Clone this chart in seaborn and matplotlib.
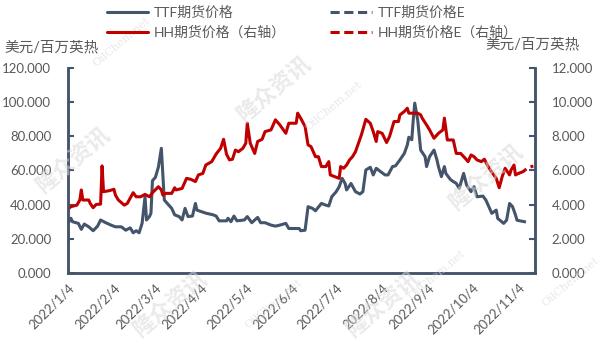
import pandas as pd
import numpy as np
import matplotlib.pyplot as plt
from matplotlib.lines import Line2D
import seaborn as sns

# 数据
ttf_dates = ["2022-01-04", "2022-01-06", "2022-01-07", "2022-01-11", "2022-01-13", "2022-01-15",
             "2022-01-18", "2022-01-21", "2022-01-24", "2022-01-26", "2022-01-29", "2022-02-02",
             "2022-02-05", "2022-02-09", "2022-02-12", "2022-02-15", "2022-02-17", "2022-02-19",
             "2022-02-21", "2022-02-23", "2022-02-25", "2022-02-26", "2022-02-28", "2022-03-01",
             "2022-03-02", "2022-03-04", "2022-03-06", "2022-03-08", "2022-03-10", "2022-03-12",
             "2022-03-15", "2022-03-17", "2022-03-20", "2022-03-22", "2022-03-24", "2022-03-26",
             "2022-03-29", "2022-03-31", "2022-04-01", "2022-04-07", "2022-04-12", "2022-04-14",
             "2022-04-16", "2022-04-21", "2022-04-22", "2022-04-24", "2022-04-26", "2022-04-28",
             "2022-05-03", "2022-05-05", "2022-05-08", "2022-05-12", "2022-05-14", "2022-05-17",
             "2022-05-21", "2022-05-24", "2022-05-27", "2022-05-31", "2022-06-02", "2022-06-09",
             "2022-06-10", "2022-06-13", "2022-06-15", "2022-06-18", "2022-06-20", "2022-06-24",
             "2022-06-27", "2022-06-29", "2022-07-01", "2022-07-04", "2022-07-06", "2022-07-08",
             "2022-07-10", "2022-07-11", "2022-07-14", "2022-07-17", "2022-07-20", "2022-07-22",
             "2022-07-24", "2022-07-27", "2022-07-29", "2022-07-31", "2022-08-03", "2022-08-06",
             "2022-08-08", "2022-08-11", "2022-08-13", "2022-08-16", "2022-08-19", "2022-08-21",
             "2022-08-22", "2022-08-24", "2022-08-25", "2022-08-26", "2022-08-28", "2022-08-30",
             "2022-09-02", "2022-09-03", "2022-09-05", "2022-09-08", "2022-09-10", "2022-09-11",
             "2022-09-13", "2022-09-15", "2022-09-16", "2022-09-19", "2022-09-21", "2022-09-23",
             "2022-09-25", "2022-09-28", "2022-09-30", "2022-10-03", "2022-10-05", "2022-10-07",
             "2022-10-11", "2022-10-13", "2022-10-15", "2022-10-17", "2022-10-20", "2022-10-21",
             "2022-10-23", "2022-10-25", "2022-10-27", "2022-10-29", "2022-10-31", "2022-11-02",
             "2022-11-03"]
ttf_values = [29.0, 32.0, 30.0, 29.0, 25.5, 28.6,
              27.0, 24.7, 27.4, 31.0, 29.6, 28.0,
              27.0, 27.0, 25.0, 26.4, 23.5, 24.7,
              23.5, 29.0, 44.6, 31.0, 33.0, 35.0,
              54.0, 56.0, 62.0, 73.0, 42.7, 40.7,
              37.8, 34.0, 33.0, 31.0, 37.8, 33.0,
              33.3, 40.7, 36.8, 35.0, 34.0, 33.3,
              30.5, 30.5, 32.0, 30.0, 33.3, 30.5,
              31.0, 33.0, 29.4, 32.5, 29.4, 29.4,
              28.0, 27.4, 28.0, 29.0, 26.0, 26.0,
              24.7, 25.0, 38.8, 37.8, 36.4, 40.7,
              39.7, 39.2, 44.6, 47.6, 50.5, 55.4,
              52.4, 48.6, 52.4, 47.6, 46.2, 47.6,
              60.3, 61.9, 57.4, 61.3, 59.3, 57.4,
              57.4, 62.3, 62.7, 66.2, 70.1, 75.0,
              79.5, 78.0, 89.7, 99.5, 89.7, 72.0,
              68.1, 62.3, 68.1, 72.0, 66.2, 62.3,
              56.4, 62.3, 58.3, 54.8, 53.5, 52.5,
              49.5, 58.3, 51.5, 47.6, 50.5, 44.6,
              45.0, 42.7, 38.8, 34.9, 36.8, 31.9,
              30.5, 29.0, 30.9, 40.7, 38.8, 33.9,
              30.9]
ttf_e_dates = ["2022-11-03", "2022-11-05", "2022-11-08", "2022-11-10"]
ttf_e_values = [30.9, 30.5, 30.0, 29.6]

hh_dates = ["2022-01-04", "2022-01-06", "2022-01-10", "2022-01-12", "2022-01-13", "2022-01-14",
            "2022-01-18", "2022-01-19", "2022-01-21", "2022-01-23", "2022-01-26", "2022-01-27",
            "2022-01-28", "2022-02-01", "2022-02-04", "2022-02-05", "2022-02-07", "2022-02-11",
            "2022-02-13", "2022-02-17", "2022-02-19", "2022-02-22", "2022-02-25", "2022-02-28",
            "2022-03-02", "2022-03-06", "2022-03-08", "2022-03-09", "2022-03-11", "2022-03-15",
            "2022-03-17", "2022-03-18", "2022-03-22", "2022-03-25", "2022-03-28", "2022-03-31",
            "2022-04-02", "2022-04-05", "2022-04-07", "2022-04-11", "2022-04-14", "2022-04-17",
            "2022-04-19", "2022-04-21", "2022-04-23", "2022-04-25", "2022-04-27", "2022-04-29",
            "2022-05-02", "2022-05-04", "2022-05-05", "2022-05-07", "2022-05-10", "2022-05-12",
            "2022-05-15", "2022-05-17", "2022-05-21", "2022-05-24", "2022-05-27", "2022-05-31",
            "2022-06-02", "2022-06-07", "2022-06-08", "2022-06-10", "2022-06-13", "2022-06-15",
            "2022-06-17", "2022-06-20", "2022-06-22", "2022-06-24", "2022-06-27", "2022-06-29",
            "2022-06-30", "2022-07-03", "2022-07-06", "2022-07-07", "2022-07-09", "2022-07-11",
            "2022-07-13", "2022-07-15", "2022-07-17", "2022-07-19", "2022-07-21", "2022-07-24",
            "2022-07-27", "2022-07-29", "2022-07-31", "2022-08-01", "2022-08-04", "2022-08-07",
            "2022-08-09", "2022-08-12", "2022-08-15", "2022-08-16", "2022-08-19", "2022-08-21",
            "2022-08-22", "2022-08-25", "2022-08-28", "2022-08-30", "2022-08-31", "2022-09-03",
            "2022-09-05", "2022-09-08", "2022-09-11", "2022-09-14", "2022-09-15", "2022-09-17",
            "2022-09-21", "2022-09-23", "2022-09-26", "2022-09-29", "2022-10-01", "2022-10-03",
            "2022-10-05", "2022-10-07", "2022-10-10", "2022-10-12", "2022-10-14", "2022-10-16",
            "2022-10-20", "2022-10-22", "2022-10-24", "2022-10-26", "2022-10-29", "2022-10-30",
            "2022-11-01", "2022-11-02", "2022-11-04"]
hh_values = [3.74, 3.88, 3.97, 4.27, 4.86, 4.27,
             4.27, 4.07, 3.82, 4.01, 4.03, 6.27,
             4.76, 4.82, 4.90, 4.56, 4.27, 3.97,
             4.07, 4.70, 4.46, 4.46, 4.60, 4.46,
             4.70, 5.05, 4.86, 4.56, 4.66, 4.66,
             4.99, 4.86, 4.95, 5.54, 5.48, 5.35,
             5.74, 5.83, 6.32, 6.52, 6.97, 7.30,
             7.83, 6.95, 6.62, 6.66, 7.20, 7.10,
             7.30, 7.60, 8.77, 7.60, 7.00, 7.70,
             7.83, 8.28, 8.38, 8.97, 8.67, 8.18,
             8.77, 8.77, 9.36, 9.07, 8.58, 7.50,
             7.40, 6.81, 6.81, 6.23, 6.23, 6.52,
             5.74, 5.64, 5.54, 6.23, 6.13, 6.32,
             6.62, 6.81, 7.10, 7.60, 8.09, 9.00,
             8.77, 8.28, 7.70, 8.28, 8.18, 7.64,
             7.99, 8.87, 8.87, 9.26, 9.46, 9.65,
             9.36, 9.36, 9.36, 9.26, 9.07, 8.67,
             8.38, 7.89, 8.18, 8.38, 9.07, 7.79,
             7.79, 7.00, 7.00, 6.72, 6.52, 6.91,
             6.81, 6.62, 6.52, 6.66, 6.32, 6.03,
             5.54, 4.99, 5.64, 6.13, 5.74, 6.03,
             6.32, 5.74, 5.83]
hh_e_dates = ["2022-11-04", "2022-11-07", "2022-11-10", "2022-11-14"]
hh_e_values = [5.83, 5.93, 6.13, 6.27]

tick_dates = ["2022-01-04", "2022-02-04", "2022-03-04", "2022-04-04", "2022-05-04", "2022-06-04",
              "2022-07-04", "2022-08-04", "2022-09-04", "2022-10-04", "2022-11-04"]
tick_labels = ["2022/1/4", "2022/2/4", "2022/3/4", "2022/4/4", "2022/5/4", "2022/6/4",
               "2022/7/4", "2022/8/4", "2022/9/4", "2022/10/4", "2022/11/4"]

ttf = pd.DataFrame({"date": pd.to_datetime(ttf_dates), "v": ttf_values})
ttf_e = pd.DataFrame({"date": pd.to_datetime(ttf_e_dates), "v": ttf_e_values})
hh = pd.DataFrame({"date": pd.to_datetime(hh_dates), "v": hh_values})
hh_e = pd.DataFrame({"date": pd.to_datetime(hh_e_dates), "v": hh_e_values})

sns.set_theme(style="white")
plt.rcParams['font.family'] = ['Lato', 'Noto Sans CJK SC', 'DejaVu Sans']

c_ttf = "#44546A"
c_hh = "#C00000"
c_axis = "#44546A"
c_text = "#595959"
dash = (0, (3, 1.5))

fig = plt.figure(figsize=(6.07, 3.53), dpi=100)
ax = fig.add_axes([0.112, 0.227, 0.769, 0.58])
ax2 = ax.twinx()

sns.lineplot(data=ttf, x="date", y="v", ax=ax, color=c_ttf, lw=2.2)
sns.lineplot(data=ttf_e, x="date", y="v", ax=ax, color=c_ttf, lw=2.2, linestyle=dash)
sns.lineplot(data=hh, x="date", y="v", ax=ax2, color=c_hh, lw=2.2)
sns.lineplot(data=hh_e, x="date", y="v", ax=ax2, color=c_hh, lw=2.2, linestyle=dash)

ax.set_xlim(pd.Timestamp("2022-01-04"), pd.Timestamp("2022-11-15"))
ax.set_ylim(0, 120)
ax2.set_ylim(0, 12)
ax.set_yticks(np.arange(0, 121, 20))
ax2.set_yticks(np.arange(0, 12.1, 2))
ax.set_yticklabels([f"{v:.3f}" for v in np.arange(0, 121, 20)], fontsize=9.5, color=c_text)
ax2.set_yticklabels([f"{v:.3f}" for v in np.arange(0, 12.1, 2)], fontsize=9.5, color=c_text)
ax.set_xticks(pd.to_datetime(tick_dates))
ax.set_xticklabels(tick_labels, rotation=45, ha="right", rotation_mode="anchor",
                   fontsize=9.5, color=c_text)
ax.set_xlabel("")
ax.set_ylabel("")
ax2.set_ylabel("")

for a in (ax, ax2):
    a.spines["top"].set_visible(False)
    for s in ("left", "right", "bottom"):
        a.spines[s].set_color(c_axis)
        a.spines[s].set_linewidth(1.8)
    a.grid(False)
ax.tick_params(axis="x", direction="in", length=4, width=1.5, color=c_axis, pad=6)
ax.tick_params(axis="y", direction="in", length=4, width=1.5, color=c_axis, pad=12)
ax2.tick_params(axis="y", direction="in", length=4, width=1.5, color=c_axis, pad=12)

# 单位
fig.text(0.008, 0.855, "美元/百万英热", fontsize=10.5, color=c_text)
fig.text(0.80, 0.862, "美元/百万英热", fontsize=10.5, color=c_text)

# 图例
handles = [
    Line2D([], [], color=c_ttf, lw=2.2),
    Line2D([], [], color=c_hh, lw=2.2),
    Line2D([], [], color=c_ttf, lw=2.2, linestyle=dash),
    Line2D([], [], color=c_hh, lw=2.2, linestyle=dash),
]
labels = ["TTF期货价格", "HH期货价格（右轴）", "TTF期货价格E", "HH期货价格E（右轴）"]
fig.legend(handles, labels, ncol=2, loc="upper left", bbox_to_anchor=(0.155, 1.02),
           frameon=False, fontsize=10, handlelength=3.0, handletextpad=0.4,
           columnspacing=3.2, labelspacing=0.45, labelcolor=c_text)

# 水印
for (x, y) in [(0.12, 0.55), (0.45, 0.75), (0.80, 0.50), (0.63, 0.14), (0.28, 0.14)]:
    fig.text(x, y, "隆众资讯", fontsize=16, fontweight="bold", color="#d9d9d9",
             alpha=0.55, rotation=40, ha="center", va="center", zorder=0)
for (x, y) in [(0.20, 0.88), (0.55, 0.70), (0.72, 0.22), (0.94, 0.20), (0.45, 0.14)]:
    fig.text(x, y, "OilChem.net", fontsize=8, color="#d9d9d9", alpha=0.6,
             rotation=40, ha="center", va="center", family="DejaVu Serif", zorder=0)

plt.savefig("out.png", dpi=100)
plt.close()
